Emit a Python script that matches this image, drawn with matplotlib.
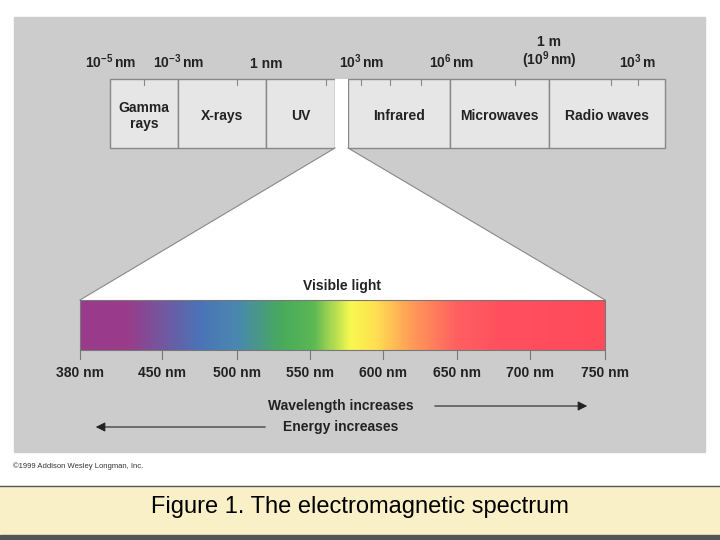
import matplotlib.pyplot as plt
import numpy as np
from matplotlib.patches import Rectangle, Polygon
from matplotlib.colors import LinearSegmentedColormap

plt.rcParams['font.family'] = ['Liberation Sans', 'DejaVu Sans']
plt.rcParams['mathtext.fontset'] = 'custom'
plt.rcParams['mathtext.rm'] = 'Liberation Sans:bold'
plt.rcParams['mathtext.it'] = 'Liberation Sans:bold'
plt.rcParams['mathtext.bf'] = 'Liberation Sans:bold'

# spectrum regions (top bar)
band_names = ["Gamma\nrays", "X-rays", "UV", "Infrared", "Microwaves", "Radio waves"]
band_edges = [(110, 178), (178, 266), (266, 335), (348, 450), (450, 549), (549, 665)]
top_labels = [r"10$^{-5}\,$nm", r"10$^{-3}\,$nm", "1 nm", r"10$^{3}\,$nm", r"10$^{6}\,$nm",
              "1 m\n" + r"(10$^{9}\,$nm)", r"10$^{3}\,$m"]
top_label_x = [111, 179, 266, 362, 452, 549, 637]
minor_ticks = [144, 237, 326, 361, 390, 421, 515, 611, 638]

# visible light
vis_nm = [380, 450, 500, 550, 600, 650, 700, 750]
vis_x = [80, 162, 237, 310, 383, 457, 530, 605]
grad_nm = [380, 420, 450, 475, 500, 530, 552, 578, 595, 620, 650, 680, 750]
grad_col = ["#9a3a8a", "#9a3c8a", "#7258a0", "#4a74b8", "#4a88b0", "#48aa5c", "#5ab854",
            "#f8f850", "#ffe050", "#ff9a58", "#ff6060", "#ff5060", "#ff4a5a"]

fig = plt.figure(figsize=(7.2, 5.4), dpi=100)
ax = fig.add_axes([0, 0, 1, 1])
ax.set_xlim(0, 720)
ax.set_ylim(540, 0)
ax.axis("off")

ax.add_patch(Rectangle((14, 17), 691, 435, color="#cccccc", zorder=0))

bold = dict(fontsize=10, fontweight="bold", color="#222222")

# top bar
for (a, b), name in zip(band_edges, band_names):
    ax.add_patch(Rectangle((a, 79), b - a, 69, facecolor="#e6e6e6", edgecolor="#888888", lw=1))
    ax.text((a + b) / 2, 116, name, ha="center", va="center", linespacing=1.15, **bold)
ax.add_patch(Rectangle((335, 79), 13, 69, facecolor="white", edgecolor="none"))
for x in minor_ticks:
    ax.plot([x, x], [79, 85], color="#888888", lw=0.8)
for x, lab in zip(top_label_x, top_labels):
    ax.text(x, 71, lab, ha="center", va="bottom", linespacing=1.0, **bold)

# funnel
ax.add_patch(Polygon([(335, 148), (348, 148), (605, 300), (80, 300)],
                     facecolor="white", edgecolor="none"))
ax.plot([335, 80], [148, 300], color="#888888", lw=0.8)
ax.plot([348, 605], [148, 300], color="#888888", lw=0.8)
ax.text(342, 286, "Visible light", ha="center", va="center", **bold)

# gradient bar
xs = np.arange(80, 606)
nm_at_x = np.interp(xs, vis_x, vis_nm)
pos = (np.array(grad_nm) - 380) / 370
cmap = LinearSegmentedColormap.from_list("vis", list(zip(pos, grad_col)))
vals = (nm_at_x - 380) / 370
ax.imshow(vals[None, :], cmap=cmap, vmin=0, vmax=1, aspect="auto",
          extent=(80, 605, 350, 300), zorder=2)
ax.add_patch(Rectangle((80, 300), 525, 50, fill=False, edgecolor="#777777", lw=0.8, zorder=3))
for x, nm in zip(vis_x, vis_nm):
    ax.plot([x, x], [350, 359], color="#777777", lw=0.8)
    ax.text(x, 373, f"{nm} nm", ha="center", va="center", **bold)

# arrows
ax.text(341, 406, "Wavelength increases", ha="center", va="center", **bold)
ax.annotate("", xy=(590, 406), xytext=(432, 406),
            arrowprops=dict(arrowstyle="-|>", color="#222222", lw=0.8, mutation_scale=14))
ax.text(341, 427, "Energy increases", ha="center", va="center", **bold)
ax.annotate("", xy=(93, 427), xytext=(268, 427),
            arrowprops=dict(arrowstyle="-|>", color="#222222", lw=0.8, mutation_scale=14))

ax.text(13, 466, "©1999 Addison Wesley Longman, Inc.", ha="left", va="center",
        fontsize=5.5, color="#333333")

# caption band
ax.add_patch(Rectangle((0, 486), 720, 49, color="#faf0c8", zorder=0))
ax.plot([0, 720], [486, 486], color="#555555", lw=1)
ax.add_patch(Rectangle((0, 535), 720, 5, color="#555555", zorder=0))
ax.text(360, 507, "Figure 1. The electromagnetic spectrum", ha="center", va="center",
        fontsize=17, color="black")

fig.savefig("out.png", dpi=100)
